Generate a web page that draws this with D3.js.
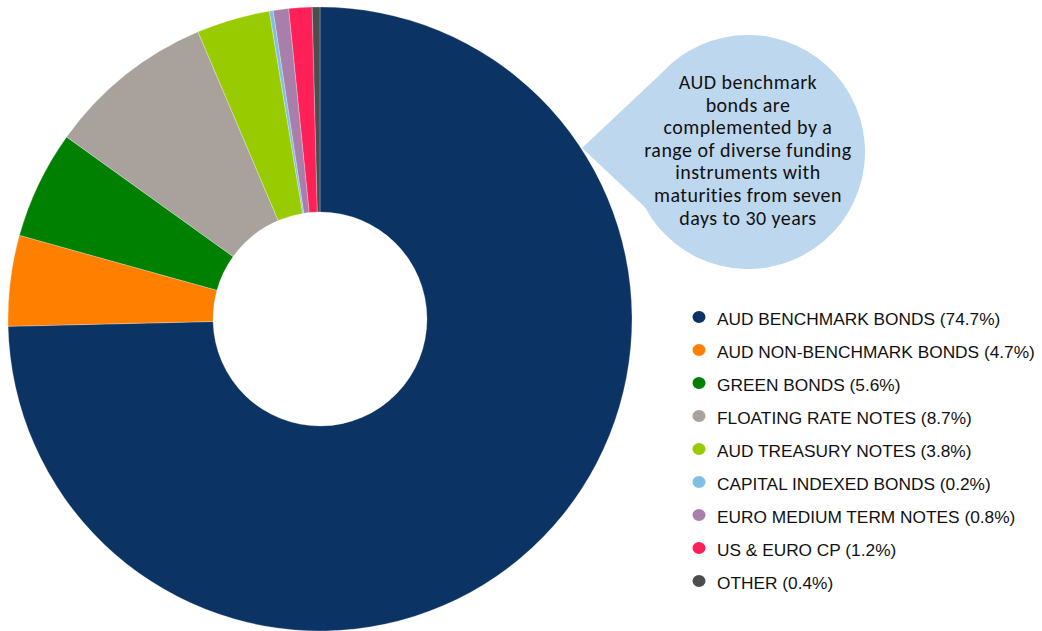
<!DOCTYPE html>
<html><head><meta charset="utf-8">
<script src="https://cdn.jsdelivr.net/npm/d3@7"></script>
<style>html,body{margin:0;padding:0;background:#fff;}svg{display:block;}</style>
</head><body>
<svg id="chart" width="1042" height="631"></svg>
<script>
const categories = ["AUD BENCHMARK BONDS","AUD NON-BENCHMARK BONDS","GREEN BONDS","FLOATING RATE NOTES","AUD TREASURY NOTES","CAPITAL INDEXED BONDS","EURO MEDIUM TERM NOTES","US & EURO CP","OTHER"];
const values = [74.7, 4.7, 5.6, 8.7, 3.8, 0.2, 0.8, 1.2, 0.4];
const colors = ["#0B3363","#FF8000","#008000","#A9A19C","#99CC00","#80BFE3","#A87FAA","#FF2057","#4D4D4D"];
const calloutLines = ["AUD benchmark","bonds are","complemented by a","range of diverse funding","instruments with","maturities from seven","days to 30 years"];

const svg = d3.select("#chart");
const cx = 320, cy = 319, rOuter = 312, rInner = 107;

// Callout bubble
const bx = 748, by = 152, br = 117;
const tip = [582, 148];
const a1 = Math.atan2(73-by, 660-bx), a2 = Math.atan2(207-by, 645-bx);
const p1 = [bx + br*Math.cos(a1), by + br*Math.sin(a1)];
const p2 = [bx + br*Math.cos(a2), by + br*Math.sin(a2)];
svg.append("path")
  .attr("d", `M${tip[0]},${tip[1]} L${p1[0]},${p1[1]} A${br},${br} 0 1 1 ${p2[0]},${p2[1]} Z`)
  .attr("fill", "#BDD7EE");
svg.append("text")
  .attr("text-anchor","middle")
  .style("font-family","Carlito, Calibri, 'Liberation Sans'")
  .style("font-size", "20px")
  .style("letter-spacing", "0.45px")
  .attr("fill","#111")
  .selectAll("tspan").data(calloutLines).join("tspan")
  .attr("x", bx).attr("y", (d,i) => 89 + i*22.6)
  .text(d => d);

// Donut
const pie = d3.pie().sort(null).value(d => d);
const arc = d3.arc().innerRadius(rInner).outerRadius(rOuter);
const g = svg.append("g").attr("transform", `translate(${cx},${cy})`);
g.selectAll("path").data(pie(values)).join("path")
  .attr("d", arc)
  .attr("fill", (d,i) => colors[i])
  .attr("stroke", "#ffffff")
  .attr("stroke-opacity", 0.5)
  .attr("stroke-width", 0.5);

// Legend
const ly = d3.scalePoint().domain(categories).range([318, 582]);
const leg = svg.append("g");
const items = leg.selectAll("g").data(categories).join("g")
  .attr("transform", d => `translate(0,${ly(d)})`);
items.append("ellipse").attr("cx", 699).attr("cy", -1).attr("rx", 6.5).attr("ry", 6)
  .attr("fill", (d,i) => colors[i]);
items.append("text").attr("x", 717).attr("y", 6.5)
  .style("font-family","'Liberation Sans', Arial")
  .style("font-size", "17.3px").attr("fill","#111")
  .text((d,i) => `${d} (${values[i]}%)`);
</script>
</body></html>
